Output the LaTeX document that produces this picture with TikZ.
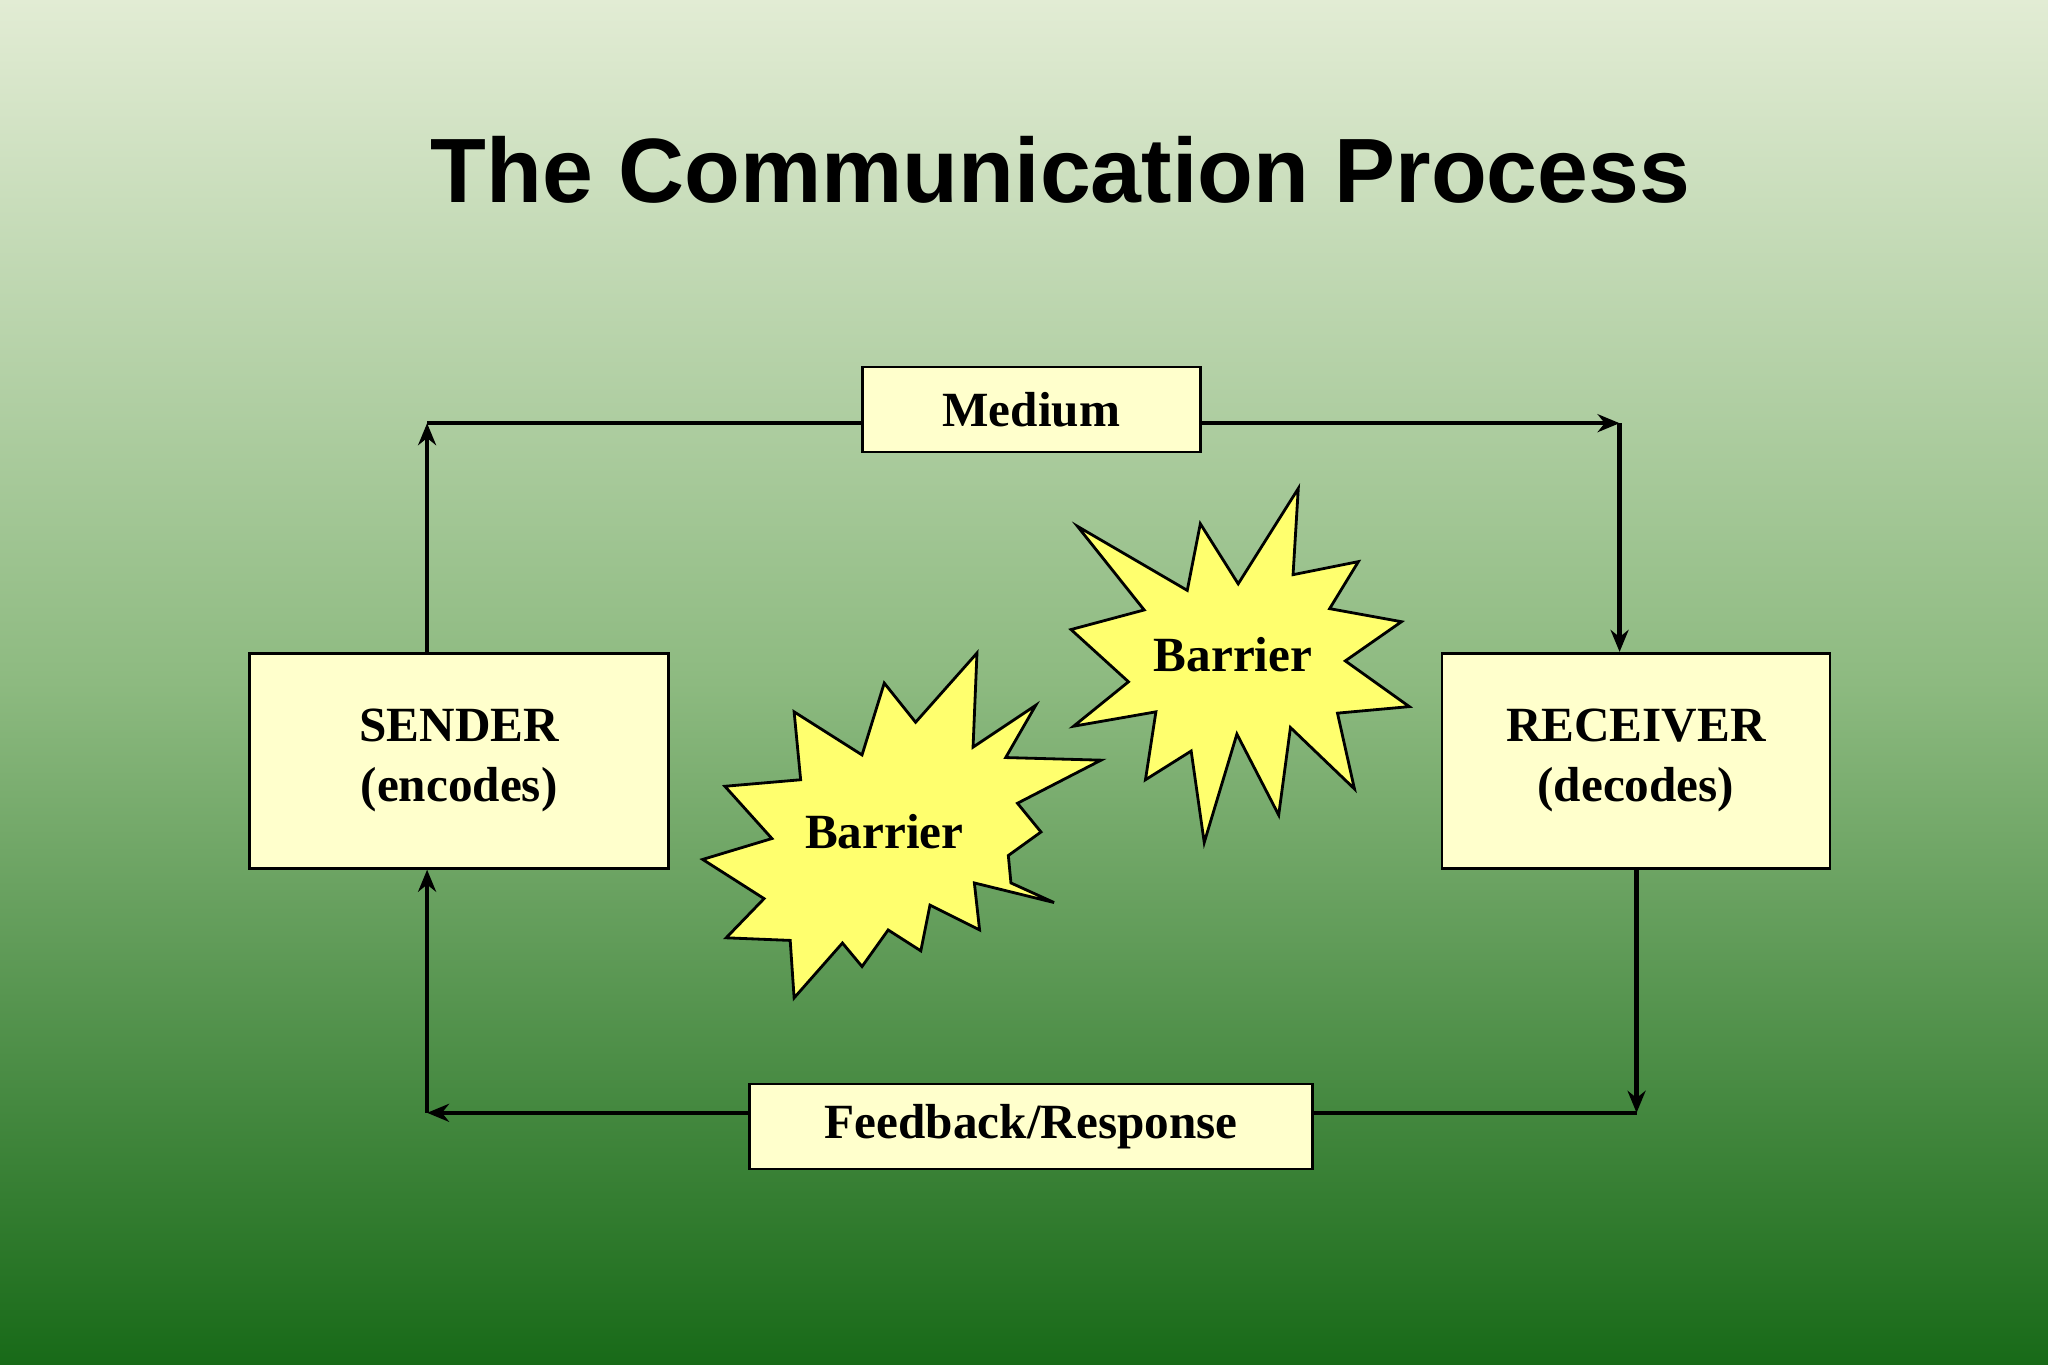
\documentclass[tikz,border=0pt]{standalone}
\usepackage{fontspec}
\setmainfont{Liberation Serif}
\newfontfamily\titlefont{Liberation Sans}
\usetikzlibrary{arrows.meta}
\definecolor{boxfill}{HTML}{FFFFCC}
\definecolor{starfill}{HTML}{FFFF6E}
\definecolor{bgtop}{HTML}{E2ECD4}
\definecolor{bgmid}{HTML}{8DBA80}
\definecolor{bgbot}{HTML}{186A18}
\begin{document}
\begin{tikzpicture}[x=0.01306cm,y=-0.01306cm]
\tikzstyle{every node}+=[inner sep=0pt]
\tikzstyle{box}=[draw=black,line width=0.8pt,fill=boxfill,font=\fontsize{14}{17}\selectfont\bfseries,align=center]
\tikzstyle{link}=[black,line width=1.2pt]
\tikzstyle{tip}=[-{Stealth[length=2.2mm,width=1.8mm]}]
\tikzstyle{burst}=[draw=black,line width=0.8pt,fill=starfill]
\useasboundingbox (0,0) rectangle (1568,1045);
\shade [top color=bgtop,bottom color=bgbot,middle color=bgmid] (0,0) rectangle (1568,1045);
\node (title) at (812,130) {\titlefont\fontsize{26}{30}\selectfont\bfseries The Communication Process};
\node [box,minimum width=3.38cm,minimum height=0.85cm] (medium) at (789.5,313.5) {Medium};
\node [box,minimum width=4.19cm,minimum height=2.15cm] (sender) at (351.5,582.5) {SENDER\\(encodes)};
\node [box,minimum width=3.88cm,minimum height=2.15cm] (receiver) at (1252.5,582.5) {RECEIVER\\(decodes)};
\node [box,minimum width=5.63cm,minimum height=0.85cm] (feedback) at (789.5,862.5) {Feedback/Response};
\coordinate (tl) at (327,324);
\coordinate (tr) at (1240,324);
\coordinate (br) at (1253,852);
\coordinate (bl) at (327,852);
% outgoing message
\draw [link,tip] (sender.north -| tl) -- (tl);
\draw [link] (tl) -- (medium.west |- tl);
\draw [link,tip] (medium.east |- tr) -- (tr);
\draw [link,tip] (tr) -- (receiver.north -| tr);
% return path
\draw [link,tip] (receiver.south -| br) -- (br);
\draw [link] (br) -- (feedback.east |- br);
\draw [link,tip] (feedback.west |- bl) -- (bl);
\draw [link,tip] (bl) -- (sender.south -| bl);
% barriers
\draw [burst] (608,545) -- (660,578) -- (677,523) -- (701,553) -- (748,500) -- (745,572) -- (793,540) -- (770,580) -- (843,582) -- (779,615) -- (797,637) -- (772,655) -- (774,676) -- (807,691) -- (746,676) -- (750,712) -- (712,693) -- (705,728) -- (680,712) -- (660,740) -- (645,722) -- (608,764) -- (605,720) -- (556,718) -- (585,688) -- (538,658) -- (591,642) -- (555,602) -- (613,597) -- cycle;
\draw [burst] (825,403) -- (909,452) -- (919,401) -- (948,447) -- (994,374) -- (990,440) -- (1040,430) -- (1018,466) -- (1073,476) -- (1030,506) -- (1079,541) -- (1024,546) -- (1037,604) -- (988,557) -- (979,624) -- (947,562) -- (922,645) -- (912,575) -- (877,597) -- (885,545) -- (822,556) -- (864,522) -- (820,482) -- (876,467) -- cycle;
\node [font=\fontsize{14}{17}\selectfont\bfseries] (barrierA) at (677,637) {Barrier};
\node [font=\fontsize{14}{17}\selectfont\bfseries] (barrierB) at (944,501) {Barrier};
\end{tikzpicture}
\end{document}
